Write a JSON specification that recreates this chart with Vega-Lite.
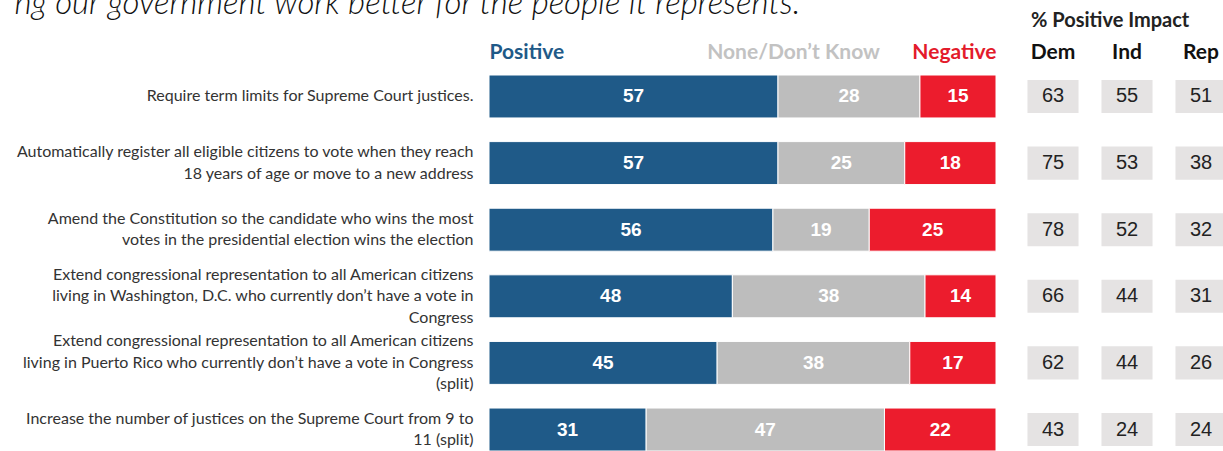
{
  "$schema": "https://vega.github.io/schema/vega-lite/v6.json",
  "background": "white",
  "padding": {"left": 14, "top": -12, "right": 0, "bottom": 0},
  "title": {"text": "ng our government work better for the people it represents.", "anchor": "start", "font": "Lato", "fontStyle": "italic", "fontWeight": 300, "fontSize": 33, "color": "#111", "offset": -10, "frame": "bounds"},
  "config": {"view": {"stroke": null}, "axis": {"grid": false, "domain": false, "ticks": false, "tickSize": 0}},
  "datasets": {
    "bars": [
      {"item": "Require term limits for Supreme Court justices.", "cat": "Positive", "value": 57},
      {"item": "Require term limits for Supreme Court justices.", "cat": "None/Don’t Know", "value": 28},
      {"item": "Require term limits for Supreme Court justices.", "cat": "Negative", "value": 15},
      {"item": "Automatically register all eligible citizens to vote when they reach|18 years of age or move to a new address", "cat": "Positive", "value": 57},
      {"item": "Automatically register all eligible citizens to vote when they reach|18 years of age or move to a new address", "cat": "None/Don’t Know", "value": 25},
      {"item": "Automatically register all eligible citizens to vote when they reach|18 years of age or move to a new address", "cat": "Negative", "value": 18},
      {"item": "Amend the Constitution so the candidate who wins the most|votes in the presidential election wins the election", "cat": "Positive", "value": 56},
      {"item": "Amend the Constitution so the candidate who wins the most|votes in the presidential election wins the election", "cat": "None/Don’t Know", "value": 19},
      {"item": "Amend the Constitution so the candidate who wins the most|votes in the presidential election wins the election", "cat": "Negative", "value": 25},
      {"item": "Extend congressional representation to all American citizens|living in Washington, D.C. who currently don’t have a vote in|Congress", "cat": "Positive", "value": 48},
      {"item": "Extend congressional representation to all American citizens|living in Washington, D.C. who currently don’t have a vote in|Congress", "cat": "None/Don’t Know", "value": 38},
      {"item": "Extend congressional representation to all American citizens|living in Washington, D.C. who currently don’t have a vote in|Congress", "cat": "Negative", "value": 14},
      {"item": "Extend congressional representation to all American citizens|living in Puerto Rico who currently don’t have a vote in Congress|(split)", "cat": "Positive", "value": 45},
      {"item": "Extend congressional representation to all American citizens|living in Puerto Rico who currently don’t have a vote in Congress|(split)", "cat": "None/Don’t Know", "value": 38},
      {"item": "Extend congressional representation to all American citizens|living in Puerto Rico who currently don’t have a vote in Congress|(split)", "cat": "Negative", "value": 17},
      {"item": "Increase the number of justices on the Supreme Court from 9 to|11 (split)", "cat": "Positive", "value": 31},
      {"item": "Increase the number of justices on the Supreme Court from 9 to|11 (split)", "cat": "None/Don’t Know", "value": 47},
      {"item": "Increase the number of justices on the Supreme Court from 9 to|11 (split)", "cat": "Negative", "value": 22}
    ],
    "party": [
      {"item": "Require term limits for Supreme Court justices.", "party": "Dem", "value": 63},
      {"item": "Require term limits for Supreme Court justices.", "party": "Ind", "value": 55},
      {"item": "Require term limits for Supreme Court justices.", "party": "Rep", "value": 51},
      {"item": "Automatically register all eligible citizens to vote when they reach|18 years of age or move to a new address", "party": "Dem", "value": 75},
      {"item": "Automatically register all eligible citizens to vote when they reach|18 years of age or move to a new address", "party": "Ind", "value": 53},
      {"item": "Automatically register all eligible citizens to vote when they reach|18 years of age or move to a new address", "party": "Rep", "value": 38},
      {"item": "Amend the Constitution so the candidate who wins the most|votes in the presidential election wins the election", "party": "Dem", "value": 78},
      {"item": "Amend the Constitution so the candidate who wins the most|votes in the presidential election wins the election", "party": "Ind", "value": 52},
      {"item": "Amend the Constitution so the candidate who wins the most|votes in the presidential election wins the election", "party": "Rep", "value": 32},
      {"item": "Extend congressional representation to all American citizens|living in Washington, D.C. who currently don’t have a vote in|Congress", "party": "Dem", "value": 66},
      {"item": "Extend congressional representation to all American citizens|living in Washington, D.C. who currently don’t have a vote in|Congress", "party": "Ind", "value": 44},
      {"item": "Extend congressional representation to all American citizens|living in Washington, D.C. who currently don’t have a vote in|Congress", "party": "Rep", "value": 31},
      {"item": "Extend congressional representation to all American citizens|living in Puerto Rico who currently don’t have a vote in Congress|(split)", "party": "Dem", "value": 62},
      {"item": "Extend congressional representation to all American citizens|living in Puerto Rico who currently don’t have a vote in Congress|(split)", "party": "Ind", "value": 44},
      {"item": "Extend congressional representation to all American citizens|living in Puerto Rico who currently don’t have a vote in Congress|(split)", "party": "Rep", "value": 26},
      {"item": "Increase the number of justices on the Supreme Court from 9 to|11 (split)", "party": "Dem", "value": 43},
      {"item": "Increase the number of justices on the Supreme Court from 9 to|11 (split)", "party": "Ind", "value": 24},
      {"item": "Increase the number of justices on the Supreme Court from 9 to|11 (split)", "party": "Rep", "value": 24}
    ]
  },
  "spacing": 19,
  "hconcat": [
    {
      "width": 507,
      "height": 376,
      "data": {"name": "bars"},
      "encoding": {
        "y": {"field": "item", "type": "nominal", "sort": null,
          "scale": {"paddingInner": 0.355, "paddingOuter": 0},
          "axis": {"title": null, "labelExpr": "split(datum.value, '|')", "labelFont": "Lato", "labelFontSize": 16, "labelColor": "#333", "labelLineHeight": 21.5, "labelPadding": 16, "labelLimit": 0, "labelAlign": "right", "labelBaseline": "middle",
            "labelOffset": {"condition": [{"test": "length(split(datum.value, '|')) == 3", "value": -21.5}, {"test": "length(split(datum.value, '|')) == 2", "value": -10.75}], "value": 0}}}
      },
      "layer": [
        {
          "mark": {"type": "bar", "stroke": "white", "strokeWidth": 1},
          "encoding": {
            "x": {"field": "value", "type": "quantitative", "stack": "zero",
              "scale": {"domain": [0, 100], "nice": false},
              "axis": {"orient": "top", "title": null, "values": [0, 77, 100],
                "labelExpr": "datum.value == 0 ? 'Positive' : (datum.value == 100 ? 'Negative' : 'None/Don’t Know')",
                "labelAlign": {"condition": {"test": "datum.value == 0", "value": "left"}, "value": "right"},
                "labelColor": {"condition": [{"test": "datum.value == 0", "value": "#1f5a88"}, {"test": "datum.value == 100", "value": "#e31b2b"}], "value": "#c2c2c2"},
                "labelFont": "Lato", "labelFontWeight": "bold", "labelFontSize": 21, "labelPadding": 13, "labelOverlap": false, "labelFlush": false, "labelBound": false}},
            "color": {"field": "cat", "type": "nominal", "scale": {"domain": ["Positive", "None/Don’t Know", "Negative"], "range": ["#1f5a88", "#bdbdbd", "#ec1c2d"]}, "legend": null},
            "order": {"field": "cat", "sort": "descending"}
          }
        },
        {
          "mark": {"type": "text", "color": "white", "font": "Liberation Sans", "fontWeight": "bold", "fontSize": 19},
          "encoding": {
            "x": {"field": "value", "type": "quantitative", "stack": "zero", "bandPosition": 0.5},
            "text": {"field": "value", "type": "quantitative"},
            "order": {"field": "cat", "sort": "descending"}
          }
        }
      ]
    },
    {
      "width": 222,
      "height": 376,
      "data": {"name": "party"},
      "title": {"text": "% Positive Impact", "anchor": "start", "dx": 15, "font": "Lato", "fontWeight": "bold", "fontSize": 20, "color": "#222", "offset": 10},
      "encoding": {
        "y": {"field": "item", "type": "nominal", "sort": null, "scale": {"paddingInner": 0.355, "paddingOuter": 0}, "axis": null},
        "x": {"field": "party", "type": "nominal", "sort": null, "scale": {"paddingInner": 0.31, "paddingOuter": 0.155},
          "axis": {"orient": "top", "title": null, "labelAngle": 0, "labelFont": "Lato", "labelFontWeight": "bold", "labelFontSize": 21, "labelColor": "#111", "labelPadding": 13}}
      },
      "layer": [
        {"mark": {"type": "rect", "color": "#e5e3e3", "height": {"band": 0.77}}},
        {"mark": {"type": "text", "font": "Liberation Sans, Arial, sans-serif", "fontSize": 20, "color": "#222"}, "encoding": {"text": {"field": "value", "type": "quantitative"}}}
      ]
    }
  ]
}
